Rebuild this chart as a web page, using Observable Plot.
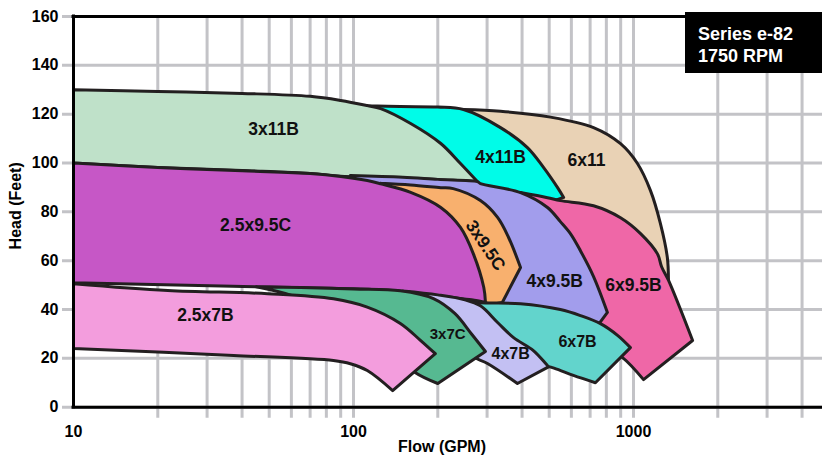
<!DOCTYPE html>
<html><head><meta charset="utf-8">
<script src="https://cdn.jsdelivr.net/npm/d3@7"></script>
<script src="https://cdn.jsdelivr.net/npm/@observablehq/plot@0.6"></script>
<style>
body{margin:0;background:#fff;}
#wrap{position:relative;width:822px;height:458px;overflow:hidden;}
#badge{position:absolute;left:685px;top:12px;width:140px;height:61px;background:#000;color:#fff;font:bold 18px "Liberation Sans",Arial,sans-serif;line-height:22px;padding:11px 0 0 13px;box-sizing:border-box;white-space:nowrap;}
</style></head>
<body><div id="wrap"><div id="chart"></div><div id="badge">Series e-82<br>1750 RPM</div></div>
<script>
// ---- axes / ticks ----
const yTicks = [0, 20, 40, 60, 80, 100, 120, 140, 160];
const xGrid = [20, 30, 40, 50, 60, 70, 80, 90, 100, 200, 300, 400, 500, 600, 700, 800, 900, 1000, 2000, 3000, 4000];
const xTickLabels = [10, 100, 1000];

// ---- coverage regions: [flow GPM, head ft] outlines ----
const p6x11 = [[247,121.9],[335,121.2],[505,118.8],[720,114.5],[899,107.9],[1033,99.8],[1150,88.7],[1248,75.2],[1321,61.3],[1333,52],[1100,50],[900,60],[600,70],[450,85],[400,100]];
const p4x11B = [[112,123.5],[147,123.1],[200,122.9],[247,121.9],[335,114.5],[418,106.3],[477,98.2],[535,90],[563,85.9],[480,84],[380,86],[284,90],[200,92],[130,100]];
const p3x11B = [[10,130],[20,129.3],[40,128.5],[70,127.3],[90,125.6],[112,123.5],[125,122.3],[160,116.2],[205,108],[241,99.8],[277,92.4],[200,93.2],[120,94.2],[90,94.6],[70,95.7],[40,96.9],[20,98.2],[10,100]];
const p6x95B = [[395,87.9],[493,85.8],[548,84.6],[720,82.5],[899,77.6],[1060,71.1],[1218,62.8],[1260,57.5],[1333,52],[1626,27.3],[1086,11.3],[914,20.3],[800,24],[600,32],[450,60],[390,87.5]];
const p4x95B = [[97.5,94.9],[150,94.2],[200,93.3],[277,92.4],[284,91.6],[395,87.9],[493,81.8],[548,76],[596,71],[647,64],[720,53.5],[807,38.8],[740,33],[560,36],[420,38],[320,40],[250,60],[150,80]];
const p3x95C = [[125,91.7],[160,91],[205,89.9],[227,89.5],[284,84.6],[327,77.7],[358,69.5],[395,57.2],[340,42.9],[296,42.7],[200,55],[130,85]];
const p25x95C = [[10,100],[20,98.2],[40,96.8],[70,95.7],[90,94.5],[112,92.8],[125,91.5],[160,88],[205,81.8],[241,73.6],[268,62.8],[292,49],[296,42.9],[264,44],[222,45],[188,46],[147,47.5],[97.5,48.5],[37,49.5],[10,51]];
const p6x7B = [[270,43],[296,42.7],[395,42.4],[548,40],[647,37.5],[762,34.2],[877,29.4],[975,24.4],[731,10],[610,13],[520,16],[450,18],[350,24],[290,32]];
const p4x7B = [[150,47.6],[200,46],[250,44],[284,41.5],[327,34.7],[373,28.5],[439,23.2],[497,16.5],[385,9.7],[301,17.9],[265,21],[230,30],[190,42]];
const p3x7C = [[45,49.3],[64.7,49],[100,48.4],[147,47.7],[193,44.5],[230,38.4],[264,30],[296,22.8],[200,9.7],[166,14.2],[130,25],[80,40],[60,45.8]];
const p25x7B = [[10,50.6],[21.7,47.8],[49.3,46.5],[84.8,44.4],[112,41],[147,34.3],[173,27.5],[196,21.9],[138,6.8],[112,15],[97.5,17.8],[84.8,19.1],[37.3,21.2],[10,24]];

// ---- region labels ----
const labelNames = ["3x11B","4x11B","6x11","2.5x9.5C","3x9.5C","4x9.5B","6x9.5B","2.5x7B","3x7C","4x7B","6x7B"];
const labelFlow  = [51.8, 335, 679, 44.7, 296, 523, 1000, 29.6, 217, 364, 631];
const labelHead  = [113.7, 102.2, 101, 74.4, 66.2, 51.4, 49.8, 37.5, 29.7, 22.0, 26.8];

// drawing order (back to front) with fills
const shapes = [
  [p6x11, "#e9d2b5"], [p4x11B, "#00fce8"], [p3x11B, "#bfe1c9"],
  [p6x95B, "#ef67a7"], [p4x95B, "#a29dec"], [p3x95C, "#f8b06e"], [p25x95C, "#c657c6"],
  [p6x7B, "#62d4cc"], [p4x7B, "#c3c0f3"], [p3x7C, "#56b991"], [p25x7B, "#f39ddd"]
];
const labelSize = {"3x7C": 15, "4x7B": 16, "6x7B": 16};
const labelRot = {"3x9.5C": 56};

// smooth spline that keeps sharp corners (pixel-space turn > 45deg)
function cornerSpline(context) {
  let pts;
  return {
    areaStart() {}, areaEnd() {},
    lineStart() { pts = []; },
    point(x, y) { pts.push([+x, +y]); },
    lineEnd() {
      const n = pts.length;
      if (!n) return;
      const corner = pts.map((p, i) => {
        if (i === 0 || i === n - 1) return true;
        const a = pts[i - 1], b = pts[i + 1];
        const ux = p[0] - a[0], uy = p[1] - a[1], vx = b[0] - p[0], vy = b[1] - p[1];
        const d = Math.hypot(ux, uy) * Math.hypot(vx, vy);
        if (!d) return true;
        return (ux * vx + uy * vy) / d < Math.cos(Math.PI / 4);
      });
      let started = false;
      const ctx = {
        moveTo(x, y) { if (!started) { context.moveTo(x, y); started = true; } else context.lineTo(x, y); },
        lineTo(x, y) { context.lineTo(x, y); },
        bezierCurveTo(a, b, c, d, e, f) { context.bezierCurveTo(a, b, c, d, e, f); },
        closePath() {}
      };
      let run = [pts[0]];
      const flush = () => {
        const c = d3.curveCatmullRom.alpha(0.5)(ctx);
        c.lineStart(); run.forEach(q => c.point(q[0], q[1])); c.lineEnd();
      };
      for (let i = 1; i < n; i++) {
        run.push(pts[i]);
        if (corner[i]) { flush(); run = [pts[i]]; }
      }
    }
  };
}

const labels = labelNames.map((name, i) => ({name, flow: labelFlow[i], head: labelHead[i]}));
const grid = "#c3c3c7";
const ink = "#231f20";

const chart = Plot.plot({
  width: 822, height: 458,
  marginLeft: 73, marginRight: 0, marginTop: 16, marginBottom: 51.3,
  style: {fontFamily: "'Liberation Sans', Arial, sans-serif", fontSize: "16px", fontWeight: "bold", background: "white", color: "black"},
  x: {type: "log", domain: [10, 5000], range: [73, 828.7]},
  y: {domain: [0, 160], range: [406.7, 16]},
  marks: [
    Plot.ruleX(xGrid, {stroke: grid, strokeWidth: 3, insetBottom: -11}),
    Plot.ruleY(yTicks, {stroke: grid, strokeWidth: 3, insetLeft: -11}),
    ...shapes.map(([pts, color]) => Plot.line([...pts, pts[0]], {
      x: d => d[0], y: d => d[1], fill: color, stroke: ink, strokeWidth: 3,
      strokeLinejoin: "round", strokeLinecap: "round", curve: cornerSpline
    })),
    Plot.text(labels, {
      x: "flow", y: "head", text: "name", fill: "#111",
      fontSize: d => labelSize[d.name] || 17.5,
      rotate: d => labelRot[d.name] || 0,
      fontWeight: "bold"
    }),
    Plot.ruleY([0, 160], {stroke: "#000", strokeWidth: 3, strokeLinecap: "square"}),
    Plot.ruleX([10], {stroke: "#000", strokeWidth: 3, strokeLinecap: "square"}),
    Plot.axisX({ticks: xTickLabels, tickFormat: d => String(d), tickSize: 0, tickPadding: 18, label: null}),
    Plot.axisY({ticks: yTicks, tickSize: 0, tickPadding: 15, label: null}),
    Plot.text(["Head (Feet)"], {frameAnchor: "left", dx: -58, dy: -6, rotate: -90, textAnchor: "middle", lineAnchor: "middle", fontSize: 16, fontWeight: "bold"}),
    Plot.text(["Flow (GPM)"], {frameAnchor: "bottom", dx: -6, dy: 45, fontSize: 16, fontWeight: "bold"})
  ]
});
document.getElementById("chart").appendChild(chart);
</script></body></html>
